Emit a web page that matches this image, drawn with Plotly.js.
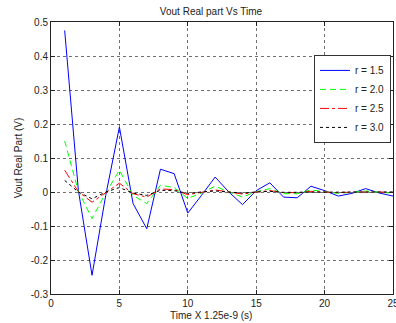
<!DOCTYPE html>
<html>
<head>
<meta charset="utf-8">
<script src="https://cdn.plot.ly/plotly-3.0.1.min.js"></script>
<style>html,body{margin:0;padding:0;background:#fff;}#chart{width:396px;height:323px;}</style>
</head>
<body>
<div id="chart"></div>
<script>
var timeSteps = [1,2,3,4,5,6,7,8,9,10,11,12,13,14,15,16,17,18,19,20,21,22,23,24,25];
var r15 = [0.475,0.005,-0.245,-0.01,0.191,-0.034,-0.108,0.067,0.054,-0.062,-0.01,0.044,0.0,-0.037,0.004,0.027,-0.015,-0.017,0.017,0.004,-0.012,-0.004,0.010,-0.003,-0.012];
var r20 = [0.150,0.002,-0.078,-0.003,0.064,-0.010,-0.034,0.020,0.013,-0.019,-0.003,0.017,0.0,-0.015,0.001,0.010,-0.005,-0.005,0.006,0.002,-0.004,-0.001,0.003,-0.001,-0.003];
var r25 = [0.064,0.001,-0.030,-0.001,0.026,-0.005,-0.015,0.009,0.007,-0.008,-0.001,0.006,0.0,-0.006,0.0,0.004,-0.002,-0.002,0.002,0.001,-0.002,0.0,0.001,0.0,-0.001];
var r30 = [0.034,0.0,-0.020,0.0,0.013,-0.003,-0.010,0.005,0.004,-0.004,0.0,0.003,0.0,-0.003,0.0,0.002,-0.001,-0.001,0.001,0.0,-0.001,0.0,0.0,0.0,0.0];
var seriesNames = ["r = 1.5","r = 2.0","r = 2.5","r = 3.0"];
var yTickVals = [0.5,0.4,0.3,0.2,0.1,0,-0.1,-0.2,-0.3];
var yTickText = ["0.5","0.4","0.3","0.2","0.1","0","-0.1","-0.2","-0.3"];
var xTickVals = [0,5,10,15,20,25];
var xTickText = ["0","5","10","15","20","25"];

var font = {family: "Liberation Sans, Arial, sans-serif", size: 10, color: "#222"};
var traces = [
  {x: timeSteps, y: r15, name: seriesNames[0], mode: "lines", line: {color: "#0000ff", width: 1, dash: "solid"}},
  {x: timeSteps, y: r20, name: seriesNames[1], mode: "lines", line: {color: "#00ff00", width: 1, dash: "6px,4px"}},
  {x: timeSteps, y: r25, name: seriesNames[2], mode: "lines", line: {color: "#ff0000", width: 1, dash: "dashdot"}},
  {x: timeSteps, y: r30, name: seriesNames[3], mode: "lines", line: {color: "#000000", width: 1, dash: "dot"}}
];
var axisCommon = {
  showline: true, linecolor: "#222", linewidth: 1, mirror: "ticks",
  ticks: "inside", ticklen: 4, tickcolor: "#222",
  showgrid: true, gridcolor: "#333", griddash: "dot", gridwidth: 0.7,
  zeroline: false, tickfont: font, tickmode: "array", ticklabeloverflow: "allow"
};
var layout = {
  width: 396, height: 323,
  margin: {l: 51, r: 3, t: 22, b: 29, pad: 0},
  paper_bgcolor: "#fff", plot_bgcolor: "#fff",
  font: font,
  showlegend: true,
  title: {text: "Vout Real part Vs Time", font: {family: font.family, size: 10, color: "#222"}, x: 211/396, xanchor: "center", y: 1 - 11/323, yanchor: "middle"},
  xaxis: Object.assign({}, axisCommon, {range: [0, 25], tickvals: xTickVals, ticktext: xTickText}),
  yaxis: Object.assign({}, axisCommon, {range: [-0.3, 0.5], tickvals: yTickVals, ticktext: yTickText,
    title: {text: "Vout Real Part (V)", font: {family: font.family, size: 10, color: "#222"}, standoff: 6}}),
  legend: {x: 0.769, y: 0.879, xanchor: "left", yanchor: "top", bgcolor: "#fff", bordercolor: "#333", borderwidth: 1, font: font, itemwidth: 30, tracegroupgap: 0},
  annotations: [{text: "Time X 1.25e-9 (s)", xref: "paper", yref: "paper", x: (211-51)/342, y: (294-315)/272, xanchor: "center", yanchor: "middle", showarrow: false, font: {family: font.family, size: 10, color: "#222"}}]
};
Plotly.newPlot("chart", traces, layout, {staticPlot: true, displayModeBar: false});
</script>
</body>
</html>
